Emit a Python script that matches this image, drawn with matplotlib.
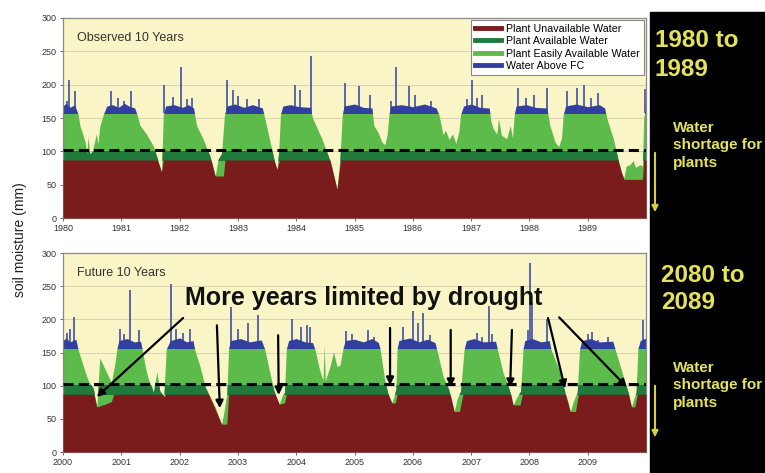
import numpy as np
import matplotlib
matplotlib.use('Agg')
import matplotlib.pyplot as plt
from matplotlib.patches import Rectangle, FancyArrowPatch
from matplotlib.lines import Line2D

plt.rcParams['font.family'] = ['Liberation Sans', 'DejaVu Sans']

# ---- observed 1980-1989 : total soil moisture (mm) ----
obs_t = [1980.00, 1980.05, 1980.12, 1980.20, 1980.26, 1980.29, 1980.38, 1980.41, 1980.43, 1980.46,
         1980.50, 1980.54, 1980.57, 1980.60, 1980.63, 1980.69, 1980.75, 1980.85, 1980.95, 1981.05,
         1981.15, 1981.23, 1981.27, 1981.32, 1981.43, 1981.55, 1981.63, 1981.69, 1981.72, 1981.76,
         1981.90, 1982.05, 1982.15, 1982.24, 1982.29, 1982.40, 1982.52, 1982.61, 1982.66, 1982.72,
         1982.77, 1982.81, 1982.95, 1983.10, 1983.25, 1983.42, 1983.46, 1983.55, 1983.64, 1983.67,
         1983.70, 1983.73, 1983.77, 1983.90, 1984.05, 1984.24, 1984.28, 1984.44, 1984.58, 1984.70,
         1984.75, 1984.79, 1984.82, 1985.00, 1985.15, 1985.30, 1985.33, 1985.40, 1985.47, 1985.52,
         1985.56, 1985.59, 1985.62, 1985.80, 1986.00, 1986.20, 1986.40, 1986.45, 1986.52, 1986.56,
         1986.62, 1986.68, 1986.74, 1986.79, 1986.82, 1986.87, 1987.00, 1987.15, 1987.31, 1987.34,
         1987.38, 1987.44, 1987.47, 1987.52, 1987.61, 1987.67, 1987.71, 1987.74, 1987.77, 1987.95,
         1988.10, 1988.30, 1988.35, 1988.44, 1988.50, 1988.55, 1988.58, 1988.62, 1988.80, 1989.00,
         1989.20, 1989.29, 1989.33, 1989.44, 1989.52, 1989.58, 1989.62, 1989.66, 1989.72, 1989.78,
         1989.82, 1989.90, 1989.94, 1989.96, 1990.00]
obs_sm = [168, 172, 166, 170, 155, 139, 114, 96, 122, 96,
          100, 114, 126, 112, 137, 155, 168, 170, 166, 172,
          167, 165, 155, 139, 126, 108, 86, 69, 155, 168,
          170, 166, 170, 165, 139, 119, 93, 63, 88, 97,
          155, 168, 171, 166, 170, 165, 150, 115, 80, 73,
          100, 155, 168, 170, 167, 166, 150, 119, 86, 43,
          90, 155, 168, 171, 166, 165, 139, 129, 114, 110,
          125, 155, 168, 170, 167, 171, 165, 154, 125, 132,
          118, 126, 112, 130, 155, 168, 171, 166, 165, 145,
          134, 126, 149, 124, 119, 139, 120, 155, 168, 170,
          166, 165, 139, 114, 107, 120, 155, 168, 171, 167,
          170, 165, 149, 119, 88, 68, 60, 78, 80, 86,
          76, 80, 78, 150, 168]
# top of the red "unavailable" layer
obs_red_t = [1980.0, 1981.62, 1981.69, 1981.72, 1982.54, 1982.61, 1982.75, 1982.78, 1983.62, 1983.67,
             1983.71, 1984.58, 1984.70, 1984.76, 1989.52, 1989.58, 1989.62, 1989.94, 1989.96, 1990.0]
obs_red = [87, 87, 69, 87, 87, 63, 63, 87, 87, 73,
           87, 87, 43, 87, 87, 68, 58, 58, 87, 87]
# blue spikes above field capacity
obs_spike_t = [1980.07, 1980.10, 1980.21, 1980.82, 1980.95, 1981.05, 1981.17, 1981.74, 1981.88, 1982.02,
               1982.12, 1982.21, 1982.81, 1982.92, 1983.00, 1983.16, 1983.36, 1983.98, 1984.06, 1984.25,
               1984.84, 1985.07, 1985.27, 1985.63, 1985.72, 1985.94, 1986.04, 1986.32, 1986.93, 1987.01,
               1987.10, 1987.19, 1987.81, 1987.95, 1988.08, 1988.30, 1988.65, 1988.81, 1988.94, 1989.05,
               1989.17, 1989.98]
obs_spike_h = [175, 207, 190, 190, 180, 176, 190, 200, 182, 226,
               178, 180, 207, 192, 183, 178, 178, 200, 192, 243,
               202, 198, 185, 175, 226, 198, 185, 175, 178, 207,
               180, 185, 195, 180, 185, 195, 190, 195, 200, 180,
               188, 193]

# ---- future 2080-2089 (axis labelled 2000-2009) ----
fut_t = [2000.00, 2000.05, 2000.12, 2000.22, 2000.26, 2000.35, 2000.43, 2000.52, 2000.58, 2000.63,
         2000.70, 2000.78, 2000.83, 2000.89, 2000.93, 2000.96, 2001.10, 2001.22, 2001.33, 2001.36,
         2001.41, 2001.46, 2001.52, 2001.55, 2001.61, 2001.66, 2001.73, 2001.77, 2001.84, 2002.00,
         2002.12, 2002.23, 2002.26, 2002.35, 2002.44, 2002.52, 2002.61, 2002.69, 2002.72, 2002.76,
         2002.81, 2002.84, 2002.87, 2003.05, 2003.20, 2003.40, 2003.46, 2003.61, 2003.67, 2003.71,
         2003.76, 2003.80, 2003.83, 2003.87, 2004.00, 2004.15, 2004.28, 2004.32, 2004.41, 2004.46,
         2004.48, 2004.50, 2004.58, 2004.64, 2004.70, 2004.75, 2004.80, 2004.84, 2005.00, 2005.15,
         2005.30, 2005.41, 2005.44, 2005.52, 2005.58, 2005.64, 2005.68, 2005.71, 2005.73, 2005.76,
         2005.95, 2006.10, 2006.25, 2006.38, 2006.41, 2006.52, 2006.61, 2006.66, 2006.71, 2006.76,
         2006.82, 2006.88, 2006.92, 2007.05, 2007.20, 2007.42, 2007.45, 2007.55, 2007.64, 2007.68,
         2007.72, 2007.78, 2007.85, 2007.89, 2007.92, 2008.05, 2008.20, 2008.34, 2008.37, 2008.53,
         2008.62, 2008.66, 2008.70, 2008.76, 2008.82, 2008.86, 2008.90, 2009.05, 2009.20, 2009.43,
         2009.47, 2009.61, 2009.70, 2009.75, 2009.79, 2009.83, 2009.86, 2009.90, 2010.00]
fut_sm = [168, 172, 166, 170, 154, 129, 108, 96, 68, 142,
          129, 114, 104, 134, 158, 168, 171, 166, 167, 154,
          129, 111, 98, 90, 121, 92, 84, 155, 168, 172,
          166, 168, 154, 129, 98, 83, 68, 48, 42, 60,
          88, 155, 168, 171, 166, 169, 155, 95, 80, 72,
          85, 90, 155, 168, 171, 166, 165, 155, 121, 108,
          160, 108, 129, 151, 129, 131, 155, 168, 170, 166,
          171, 165, 155, 108, 86, 74, 85, 95, 155, 168,
          172, 166, 170, 165, 155, 114, 96, 80, 61, 80,
          92, 155, 168, 171, 166, 167, 155, 119, 98, 86,
          71, 82, 92, 155, 168, 171, 166, 168, 155, 119,
          86, 76, 61, 78, 90, 155, 168, 171, 166, 167,
          155, 114, 88, 68, 80, 90, 155, 168, 172]
fut_red_t = [2000.0, 2000.53, 2000.58, 2000.72, 2000.83, 2000.87, 2001.71, 2001.73, 2001.76, 2002.50,
             2002.72, 2002.81, 2002.84, 2003.64, 2003.71, 2003.80, 2003.83, 2005.58, 2005.64, 2005.70,
             2005.73, 2006.64, 2006.71, 2006.80, 2006.86, 2007.68, 2007.72, 2007.84, 2007.88, 2008.62,
             2008.70, 2008.79, 2008.84, 2009.70, 2009.75, 2009.81, 2009.85, 2010.0]
fut_red = [87, 87, 68, 72, 76, 87, 87, 83, 87, 87,
           42, 42, 87, 87, 72, 74, 87, 87, 74, 74,
           87, 87, 61, 61, 87, 87, 71, 71, 87, 87,
           61, 61, 87, 87, 68, 68, 87, 87]
fut_spike_t = [2000.07, 2000.12, 2000.19, 2000.98, 2001.05, 2001.15, 2001.31, 2001.85, 2001.94, 2002.05,
               2002.17, 2002.89, 2003.00, 2003.18, 2003.35, 2003.92, 2004.08, 2004.18, 2004.23, 2004.86,
               2004.95, 2005.24, 2005.33, 2005.84, 2006.01, 2006.09, 2006.18, 2006.30, 2007.10, 2007.18,
               2007.30, 2007.35, 2007.98, 2008.01, 2008.04, 2008.30, 2009.01, 2009.07, 2009.18, 2009.35,
               2009.95]
fut_spike_h = [180, 185, 204, 186, 178, 244, 184, 254, 185, 180,
               185, 219, 185, 194, 207, 201, 188, 191, 188, 183,
               178, 184, 174, 189, 212, 194, 209, 176, 179, 174,
               220, 178, 184, 285, 224, 201, 178, 181, 169, 174,
               199]

# drought arrows (start -> end, data units of the future panel)
arrow_x0 = [2002.06, 2002.64, 2003.69, 2005.61, 2006.65, 2007.70, 2008.32, 2008.51]
arrow_y0 = [202, 191, 176, 187, 184, 184, 202, 203]
arrow_x1 = [2000.58, 2002.69, 2003.70, 2005.61, 2006.65, 2007.67, 2008.61, 2009.67]
arrow_y1 = [83, 66, 86, 101, 98, 98, 96, 98]

RAW_LEVEL = 87    # top of unavailable water
RAW2_LEVEL = 101  # top of plant available water
FC = 157          # field capacity
DASH_LEVEL = 102

RED = '#7a1b1c'
DKGREEN = '#1f7a3c'
LTGREEN = '#5dbb4c'
BLUE = '#3140a0'
BG = '#f9f5c6'
YELLOW = '#e4e25a'


def draw_panel(ax, t, sm, red_t, red, spike_t, spike_h, x0, labels, title):
    ax.set_facecolor(BG)
    bands = [(LTGREEN, 0, FC), (DKGREEN, RAW_LEVEL, RAW2_LEVEL - RAW_LEVEL), (BLUE, FC, 200)]
    for col, y0, h in bands:
        c = ax.fill_between(t, 0, sm, color=col, lw=0, zorder=2)
        c.set_clip_path(Rectangle((x0, y0), 10, h, transform=ax.transData))
    ax.vlines(spike_t, FC, spike_h, color=BLUE, lw=1.1, zorder=2)
    ax.fill_between(red_t, 0, red, color=RED, lw=0, zorder=3)
    ax.axhline(DASH_LEVEL, color='black', lw=2.2, dashes=(3.3, 1.7), zorder=5)
    ax.set_xlim(x0, x0 + 10)
    ax.set_ylim(0, 300)
    ax.set_yticks(range(0, 301, 50))
    ax.set_xticks(np.arange(x0, x0 + 10))
    ax.set_xticklabels(labels)
    ax.tick_params(labelsize=6.5, length=2.5, width=0.6, colors='#555555', labelcolor='#333333', pad=2)
    ax.yaxis.grid(True, color='#d2ceb0', lw=0.6)
    ax.set_axisbelow(True)
    for s in ax.spines.values():
        s.set_color('#8a8a80')
        s.set_linewidth(0.9)
    ax.text(0.024, 0.9, title, transform=ax.transAxes, fontsize=9, color='#333333', va='center')


fig = plt.figure(figsize=(7.65, 4.73), dpi=100)

# black side panel
fig.patches.append(Rectangle((650 / 765, 0), 115 / 765, 461 / 473, transform=fig.transFigure,
                             color='black', zorder=0))

ax1 = fig.add_axes([63 / 765, 1 - 218 / 473, 583 / 765, 200 / 473])
draw_panel(ax1, obs_t, obs_sm, obs_red_t, obs_red, obs_spike_t, obs_spike_h, 1980,
           [str(y) for y in range(1980, 1990)], 'Observed 10 Years')

handles = [Line2D([], [], color=RED, lw=3.5), Line2D([], [], color=DKGREEN, lw=3.5),
           Line2D([], [], color=LTGREEN, lw=3.5), Line2D([], [], color=BLUE, lw=3.5)]
names = ['Plant Unavailable Water', 'Plant Available Water', 'Plant Easily Available Water', 'Water Above FC']
leg = ax1.legend(handles, names, loc='upper right', bbox_to_anchor=(1, 1), borderaxespad=0.15,
                 fontsize=7.7, handlelength=2.4, labelspacing=0.22, borderpad=0.4, handletextpad=0.5,
                 fancybox=False, framealpha=1, edgecolor='#888888')
leg.get_frame().set_linewidth(0.8)
leg.set_zorder(10)

ax2 = fig.add_axes([63 / 765, 1 - 452 / 473, 583 / 765, 199 / 473])
draw_panel(ax2, fut_t, fut_sm, fut_red_t, fut_red, fut_spike_t, fut_spike_h, 2000,
           [str(y) for y in range(2000, 2010)], 'Future 10 Years')

ax2.text(2002.09, 221.6, 'More years limited by drought', fontsize=18, fontweight='bold',
         color='#111111', va='baseline', ha='left', zorder=8)
for xa, ya, xb, yb in zip(arrow_x0, arrow_y0, arrow_x1, arrow_y1):
    ax2.annotate('', xy=(xb, yb), xytext=(xa, ya),
                 arrowprops=dict(arrowstyle='-|>', color='black', lw=1.6, mutation_scale=11,
                                 shrinkA=0, shrinkB=0), zorder=8)

fig.text(20 / 765, 1 - 240 / 473, 'soil moisture (mm)', rotation=90, fontsize=10,
         ha='center', va='center', color='#222222')

# right panel texts
fig.text(655 / 765, 1 - 29 / 473, '1980 to\n1989', color=YELLOW, fontsize=17.5, fontweight='bold',
         va='top', ha='left', linespacing=1.33)
fig.text(673 / 765, 1 - 121 / 473, 'Water\nshortage for\nplants', color=YELLOW, fontsize=11,
         fontweight='bold', va='top', ha='left', linespacing=1.3)
fig.text(661 / 765, 1 - 264 / 473, '2080 to\n2089', color=YELLOW, fontsize=17.5, fontweight='bold',
         va='top', ha='left', linespacing=1.2)
fig.text(673 / 765, 1 - 361 / 473, 'Water\nshortage for\nplants', color=YELLOW, fontsize=11,
         fontweight='bold', va='top', ha='left', linespacing=1.3)

for ytop, ybot in [(150, 215), (383, 440)]:
    fig.add_artist(FancyArrowPatch((655 / 765, 1 - ytop / 473), (655 / 765, 1 - ybot / 473),
                                   transform=fig.transFigure, arrowstyle='-|>', mutation_scale=9,
                                   color='#d6d040', lw=1.5))

fig.savefig('out.png', dpi=100)
